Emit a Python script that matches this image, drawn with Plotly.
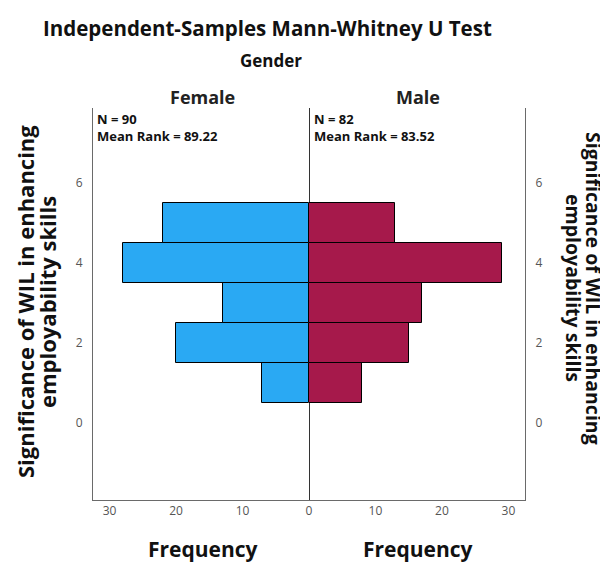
import plotly.graph_objects as go

categories = [1, 2, 3, 4, 5]
female_freq = [7, 20, 13, 28, 22]
male_freq = [8, 15, 17, 29, 13]
x_ticks = [0, 10, 20, 30]
y_ticks = [0, 2, 4, 6]
female_stats = ["N = 90", "Mean Rank = 89.22"]
male_stats = ["N = 82", "Mean Rank = 83.52"]
y_title = ["Significance of WIL in enhancing", "employability skills"]

FONT = "Open Sans"
BLUE = "#2AA9F3"
RED = "#A6194B"

# page body has an 8px margin; work in reference pixels and shift
OFF = 8
W, H = 608 - OFF, 565 - OFF
L, R, T, B = 93 - OFF, W - (525 - OFF), 108 - OFF, H - (500 - OFF)

fig = go.Figure()
fig.add_trace(go.Bar(y=categories, x=female_freq, orientation="h", width=1,
                     marker=dict(color=BLUE, line=dict(color="black", width=1)),
                     xaxis="x", yaxis="y", showlegend=False))
fig.add_trace(go.Bar(y=categories, x=male_freq, orientation="h", width=1,
                     marker=dict(color=RED, line=dict(color="black", width=1)),
                     xaxis="x2", yaxis="y", showlegend=False))
fig.add_trace(go.Scatter(x=[None], y=[None], xaxis="x2", yaxis="y2",
                         showlegend=False, hoverinfo="skip"))

tickfont = dict(family=FONT, size=12, color="#555555")
LINE = "#6a6a6a"
fig.update_layout(
    width=W, height=H,
    margin=dict(l=L, r=R, t=T, b=B),
    paper_bgcolor="white", plot_bgcolor="white",
    bargap=0,
    font=dict(family=FONT),
    xaxis=dict(domain=[0, 0.5], range=[32.5, 0], tickvals=x_ticks,
               ticktext=[str(v) for v in x_ticks], showgrid=False, zeroline=False,
               showline=True, linecolor=LINE, linewidth=1, ticks="",
               tickfont=tickfont, anchor="y", fixedrange=True),
    xaxis2=dict(domain=[0.5, 1], range=[0, 32.5], tickvals=x_ticks[1:],
                ticktext=[str(v) for v in x_ticks[1:]], showgrid=False,
                zeroline=True, zerolinecolor="#333333", zerolinewidth=1,
                layer="above traces",
                showline=True, linecolor=LINE, linewidth=1, ticks="",
                tickfont=tickfont, anchor="y", fixedrange=True),
    yaxis=dict(range=[-1.925, 7.875], tickvals=y_ticks, showgrid=False,
               zeroline=False, showline=True, linecolor=LINE, linewidth=1,
               ticks="", ticklabelstandoff=7, tickfont=tickfont, anchor="x"),
    yaxis2=dict(range=[-1.925, 7.875], tickvals=y_ticks, showgrid=False,
                zeroline=False, showline=True, linecolor=LINE, linewidth=1,
                ticks="", ticklabelstandoff=7, tickfont=tickfont,
                overlaying="y", side="right", anchor="x2"),
)

def py(pix):
    pix -= OFF
    return (H - B - pix) / (H - T - B)

def px(pix):
    pix -= OFF
    return (pix - L) / (W - L - R)

def bold(s):
    return "<b>" + s + "</b>"

annotations = [
    dict(text=bold("Independent-Samples Mann-Whitney U Test"), x=px(267), y=py(28),
         font=dict(size=20.5, color="#111111", family=FONT)),
    dict(text=bold("Gender"), x=px(271), y=py(61),
         font=dict(size=17, color="#111111", family=FONT)),
    dict(text=bold("Female"), x=px(202), y=py(97),
         font=dict(size=18, color="#222222", family=FONT)),
    dict(text=bold("Male"), x=px(418), y=py(97),
         font=dict(size=18, color="#222222", family=FONT)),
    dict(text=bold("Frequency"), x=px(203), y=py(549),
         font=dict(size=21, color="#111111", family=FONT)),
    dict(text=bold("Frequency"), x=px(418), y=py(549),
         font=dict(size=21, color="#111111", family=FONT)),
    dict(text=bold("<br>".join(female_stats)), x=px(95), y=py(108),
         xanchor="left", yanchor="top", align="left",
         font=dict(size=13, color="#111111", family=FONT)),
    dict(text=bold("<br>".join(male_stats)), x=px(312), y=py(108),
         xanchor="left", yanchor="top", align="left",
         font=dict(size=13, color="#111111", family=FONT)),
    dict(text=bold(y_title[0]), x=px(25), y=py(302), textangle=-90,
         font=dict(size=22, color="#111111", family=FONT)),
    dict(text=bold(y_title[1]), x=px(47), y=py(302), textangle=-90,
         font=dict(size=22, color="#111111", family=FONT)),
    dict(text=bold(y_title[0]), x=px(594), y=py(288), textangle=90,
         font=dict(size=19.5, color="#111111", family=FONT)),
    dict(text=bold(y_title[1]), x=px(574), y=py(288), textangle=90,
         font=dict(size=19.5, color="#111111", family=FONT)),
]
for a in annotations:
    a.setdefault("xanchor", "center")
    a.setdefault("yanchor", "middle")
    a.update(xref="paper", yref="paper", showarrow=False)
fig.update_layout(annotations=annotations)

fig.write_html("out.html")
